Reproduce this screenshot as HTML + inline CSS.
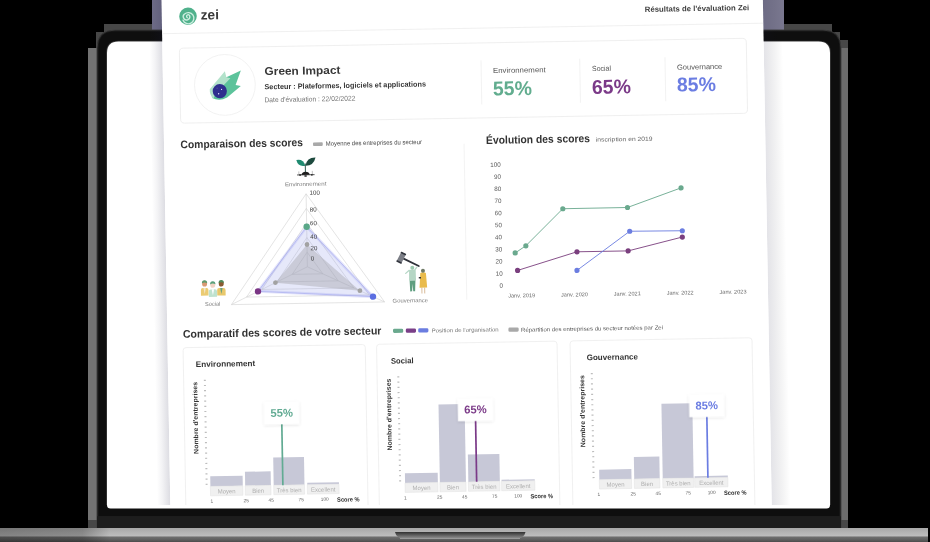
<!DOCTYPE html><html><head><meta charset="utf-8"><style>html,body{margin:0;padding:0;background:#000;width:930px;height:542px;overflow:hidden}svg{display:block;will-change:transform}</style></head><body><svg width="930" height="542" viewBox="0 0 930 542" font-family="Liberation Sans"><rect width="930" height="542" fill="#000"/><path d="M104 24 H832 V32 H840 V40 H848 V528 H88 V48 H96 V32 H104 Z" fill="#474747"/><rect x="88" y="48" width="9" height="472" fill="#737373"/><rect x="840" y="48" width="8" height="472" fill="#6c6c6c"/><rect x="152" y="0" width="10" height="30" fill="#6f6d88"/><rect x="758" y="0" width="26" height="30" fill="#79778f"/><path d="M97 48 Q97 30 115 30 H823 Q841 30 841 48 V531.6 H97 Z" fill="#1b1b1b" stroke="#3c3c3c" stroke-width="0.9"/><path d="M98.6 48 Q98.6 31.6 115 31.6 H823 Q839.4 31.6 839.4 48 V516 H98.6 Z" fill="#0e0e0e"/><rect x="97" y="516.3" width="744" height="15.3" fill="#1d1d1d"/><path d="M106.2 53 Q106.2 40.7 118.5 40.7 H818.5 Q830.8 40.7 830.8 53 V505 H106.2 Z" fill="#3a3a3a"/><path d="M107 53 Q107 41.5 118.5 41.5 H818.5 Q830 41.5 830 53 V505 Q830 508.5 826.5 508.5 H110.5 Q107 508.5 107 505 Z" fill="#ffffff"/><defs><linearGradient id="base" gradientUnits="userSpaceOnUse" x1="0" y1="528" x2="0" y2="542"><stop offset="0" stop-color="#a8a8a8"/><stop offset="0.55" stop-color="#bdbdbd"/><stop offset="0.66" stop-color="#6e6e6e"/><stop offset="0.85" stop-color="#5e5e5e"/><stop offset="1" stop-color="#4c4c4c"/></linearGradient><linearGradient id="baseL" x1="0" y1="0" x2="1" y2="0"><stop offset="0" stop-color="#000" stop-opacity="0.3"/><stop offset="0.75" stop-color="#000" stop-opacity="0.25"/><stop offset="1" stop-color="#000" stop-opacity="0"/></linearGradient><linearGradient id="notch" x1="0" y1="0" x2="0" y2="1"><stop offset="0" stop-color="#303030"/><stop offset="1" stop-color="#8a8a8a"/></linearGradient><linearGradient id="shl" x1="0" y1="0" x2="1" y2="0"><stop offset="0" stop-color="#1a1a40" stop-opacity="0"/><stop offset="0.4" stop-color="#1a1a40" stop-opacity="0.05"/><stop offset="1" stop-color="#1a1a40" stop-opacity="0.15"/></linearGradient><linearGradient id="shr" x1="0" y1="0" x2="1" y2="0"><stop offset="0" stop-color="#1a1a40" stop-opacity="0.12"/><stop offset="1" stop-color="#000" stop-opacity="0"/></linearGradient><clipPath id="scr"><rect x="0" y="0" width="930" height="505"/></clipPath><filter id="bs" x="-30%" y="-30%" width="160%" height="160%"><feDropShadow dx="0" dy="1" stdDeviation="1.5" flood-color="#000" flood-opacity="0.12"/></filter></defs><rect x="0" y="528" width="928" height="14" fill="url(#base)"/><rect x="0" y="528" width="110" height="14" fill="url(#baseL)"/><path d="M395 532 H525.5 Q524 538 518.5 538 H402 Q396.5 538 395 532 Z" fill="url(#notch)"/><rect x="400" y="538" width="120" height="0.9" fill="#a0a0a0"/><g clip-path="url(#scr)"><g transform="translate(161.5 0) rotate(-1)"><rect x="-13" y="-20" width="13" height="600" fill="url(#shl)"/><rect x="601.3" y="-20" width="19" height="600" fill="url(#shr)"/><rect x="0" y="-20" width="601.3" height="600" fill="#fff"/><circle cx="26.2" cy="16.7" r="8.8" fill="#50b18c"/><path d="M25.6 18.2 a1.6 1.6 0 1 1 2.4 -1.6 a3.3 3.3 0 1 1 -5.2 -2.2 a5.6 5.6 0 1 1 -1.6 6.2" fill="none" stroke="#cdeee0" stroke-width="1.35" stroke-linecap="round"/><text x="38.9" y="20.3" font-size="13.6" font-weight="bold" fill="#3a3a3a" text-anchor="start" textLength="18.3" lengthAdjust="spacingAndGlyphs" >zei</text><text x="587.5" y="20.4" font-size="7.6" font-weight="bold" fill="#3f3f3f" text-anchor="end" textLength="104.5" lengthAdjust="spacingAndGlyphs" >Résultats de l'évaluation Zei</text><line x1="0" y1="33.7" x2="601" y2="33.7" stroke="#ececec" stroke-width="0.8"/><rect x="17" y="48.5" width="567" height="75" rx="4" fill="#fff" stroke="#ebebeb" stroke-width="0.8"/><circle cx="61.9" cy="86" r="30.4" fill="#fff" stroke="#efefef" stroke-width="0.8"/><path d="M63.5 78.3 L78.1 71.9 L72.6 86.2 L77.8 87.4 L63.9 98.6 Q56 102.6 49 98.8 L52 90 Z" fill="#5cc39b"/><path d="M46.7 90.2 L62.1 72.4 L63.5 78.3 L67.5 79.5 L54 93 L50 99.5 Q46.3 96 46.7 90.2 Z" fill="#b3e2cb"/><circle cx="56.7" cy="92.2" r="7.1" fill="#2f2f8e"/><circle cx="58.5" cy="90.5" r="0.6" fill="#dfe0ff"/><circle cx="55.5" cy="94.8" r="0.7" fill="#dfe0ff"/><circle cx="54" cy="89" r="0.4" fill="#aab"/><text x="101.7" y="76.9" font-size="11.2" font-weight="bold" fill="#383838" text-anchor="start" textLength="76" lengthAdjust="spacingAndGlyphs" >Green Impact</text><text x="101.4" y="91.1" font-size="7.5" font-weight="bold" fill="#383838" text-anchor="start" textLength="161.5" lengthAdjust="spacingAndGlyphs" >Secteur : Plateformes, logiciels et applications</text><text x="101.2" y="104.0" font-size="7" font-weight="normal" fill="#737373" text-anchor="start" textLength="91" lengthAdjust="spacingAndGlyphs" >Date d'évaluation : 22/02/2022</text><line x1="318.4" y1="66" x2="318.4" y2="110" stroke="#efefef" stroke-width="0.8"/><line x1="417.1" y1="66" x2="417.1" y2="110" stroke="#efefef" stroke-width="0.8"/><line x1="502.4" y1="66" x2="502.4" y2="110" stroke="#efefef" stroke-width="0.8"/><text x="330.2" y="78.8" font-size="7.3" font-weight="normal" fill="#555" text-anchor="start" textLength="52.8" lengthAdjust="spacingAndGlyphs" >Environnement</text><text x="329.8" y="101.3" font-size="20" font-weight="bold" fill="#62ad8f" text-anchor="start" textLength="39" lengthAdjust="spacingAndGlyphs" >55%</text><text x="429.2" y="78.6" font-size="7.3" font-weight="normal" fill="#555" text-anchor="start" textLength="19" lengthAdjust="spacingAndGlyphs" >Social</text><text x="428.8" y="101.4" font-size="20" font-weight="bold" fill="#7b3a88" text-anchor="start" textLength="39" lengthAdjust="spacingAndGlyphs" >65%</text><text x="514.2" y="78.7" font-size="7.3" font-weight="normal" fill="#555" text-anchor="start" textLength="45.3" lengthAdjust="spacingAndGlyphs" >Gouvernance</text><text x="513.8" y="100.6" font-size="20" font-weight="bold" fill="#6b7de2" text-anchor="start" textLength="39" lengthAdjust="spacingAndGlyphs" >85%</text><text x="16.5" y="148.6" font-size="11" font-weight="bold" fill="#333" text-anchor="start" textLength="122.4" lengthAdjust="spacingAndGlyphs" >Comparaison des scores</text><rect x="149" y="145.1" width="9.7" height="3.6" rx="0.8" fill="#a9a9a9"/><text x="161.7" y="148.6" font-size="6.3" font-weight="normal" fill="#4a4a4a" text-anchor="start" textLength="96.2" lengthAdjust="spacingAndGlyphs" >Moyenne des entreprises du secteur</text><line x1="300" y1="149" x2="300" y2="305" stroke="#f0f0f0" stroke-width="0.8"/><polygon points="141.2,254.7 125.9,276.6 156.5,276.6" fill="none" stroke="#d2d2d2" stroke-width="0.6"/><polygon points="141.2,240.1 110.6,283.9 171.8,283.9" fill="none" stroke="#d2d2d2" stroke-width="0.6"/><polygon points="141.2,225.5 95.2,291.2 187.2,291.2" fill="none" stroke="#d2d2d2" stroke-width="0.6"/><polygon points="141.2,210.9 79.9,298.5 202.5,298.5" fill="none" stroke="#d2d2d2" stroke-width="0.6"/><polygon points="141.2,196.3 64.6,305.8 217.8,305.8" fill="none" stroke="#d2d2d2" stroke-width="0.6"/><line x1="141.2" y1="269.3" x2="141.2" y2="196.3" stroke="#d2d2d2" stroke-width="0.6"/><line x1="141.2" y1="269.3" x2="64.6" y2="305.8" stroke="#d2d2d2" stroke-width="0.6"/><line x1="141.2" y1="269.3" x2="217.8" y2="305.8" stroke="#d2d2d2" stroke-width="0.6"/><polygon points="141.2,229.2 91.4,293.0 206.3,300.3" fill="#8f95ea" fill-opacity="0.22" stroke="#9aa0ee" stroke-opacity="0.25" stroke-width="3" stroke-linejoin="round"/><polygon points="141.2,229.2 91.4,293.0 206.3,300.3" fill="none" stroke="#a6abf0" stroke-width="0.7"/><polygon points="141.2,247.0 109.0,284.6 193.3,294.1" fill="#a0a0a6" fill-opacity="0.4" stroke="none"/><circle cx="141.2" cy="247.0" r="2.4" fill="#a2a2a2"/><circle cx="109.0" cy="284.6" r="2.4" fill="#a2a2a2"/><circle cx="193.3" cy="294.1" r="2.4" fill="#a2a2a2"/><circle cx="141.2" cy="229.2" r="3.2" fill="#5aa888"/><circle cx="91.4" cy="293.0" r="3.2" fill="#7a3585"/><circle cx="206.3" cy="300.3" r="3.2" fill="#5b6ee1"/><text x="144.6" y="197.4" font-size="6.2" font-weight="normal" fill="#3d3d3d" text-anchor="start" >100</text><text x="144.6" y="214.2" font-size="6.2" font-weight="normal" fill="#3d3d3d" text-anchor="start" >80</text><text x="144.6" y="227.8" font-size="6.2" font-weight="normal" fill="#3d3d3d" text-anchor="start" >60</text><text x="144.6" y="241.4" font-size="6.2" font-weight="normal" fill="#3d3d3d" text-anchor="start" >40</text><text x="144.6" y="252.9" font-size="6.2" font-weight="normal" fill="#3d3d3d" text-anchor="start" >20</text><text x="144.6" y="263.2" font-size="6.2" font-weight="normal" fill="#3d3d3d" text-anchor="start" >0</text><path d="M140.8 168.2 Q139.05 161 132 162.3 Q133.75 169.5 140.8 168.2 Z" fill="#1f8a70"/><path d="M141 168.2 Q142.6 159.8 151.2 160.2 Q149.4 168.5 141 168.2 Z" fill="#1d4a3e"/><line x1="140.9" y1="166" x2="140.9" y2="175" stroke="#1d4a3e" stroke-width="0.9"/><path d="M136.8 177.4 Q137.3 174.4 141 174.2 Q144.7 174.4 145.2 177.4 Z" fill="#1e1e1e"/><line x1="132.5" y1="177.3" x2="150" y2="177.3" stroke="#2a2a2a" stroke-width="0.8"/><path d="M134.3 177 V173.8 M147.8 177 V173.5" stroke="#666" stroke-width="0.4"/><circle cx="135.5" cy="177.4" r="0.9" fill="#2a2a2a"/><circle cx="147.3" cy="177.4" r="0.9" fill="#2a2a2a"/><ellipse cx="141" cy="178.5" rx="1.5" ry="0.8" fill="#1e1e1e"/><text x="120.2" y="188.4" font-size="5.6" font-weight="normal" fill="#7c7c7c" text-anchor="start" textLength="41.5" lengthAdjust="spacingAndGlyphs" >Environnement</text><path d="M34.300000000000004 296.3 V290.8 Q34.300000000000004 288.8 36.300000000000004 288.8 H39.9 Q41.9 288.8 41.9 290.8 V296.3 Z" fill="#ebcb72"/><path d="M36.9 288.8 L38.1 294.8 L39.300000000000004 288.8 Z" fill="#f4e6c8"/><ellipse cx="38.1" cy="284.4" rx="2.5" ry="2.9" fill="#d99a72"/><path d="M35.4 283.9 Q35.5 280.79999999999995 38.1 280.9 Q40.7 280.79999999999995 40.800000000000004 283.9 Q38.1 282.4 35.4 283.9 Z" fill="#5d9a6e"/><path d="M50.599999999999994 296.5 V291.0 Q50.599999999999994 289.0 52.599999999999994 289.0 H57.0 Q59.0 289.0 59.0 291.0 V296.5 Z" fill="#e8c86c"/><path d="M53.599999999999994 289.0 L54.8 295.0 L56.0 289.0 Z" fill="#6aa080"/><ellipse cx="54.8" cy="284.6" rx="2.5" ry="2.9" fill="#8a5a30"/><path d="M52.099999999999994 284.1 Q52.199999999999996 281.0 54.8 281.1 Q57.4 281.0 57.5 284.1 Q54.8 282.6 52.099999999999994 284.1 Z" fill="#4f8a5a"/><path d="M42.199999999999996 297.7 V292.2 Q42.199999999999996 290.2 44.199999999999996 290.2 H48.4 Q50.4 290.2 50.4 292.2 V297.7 Z" fill="#bfe2cf"/><path d="M45.099999999999994 290.2 L46.3 296.2 L47.5 290.2 Z" fill="#ffffff"/><ellipse cx="46.3" cy="285.7" rx="2.5" ry="2.9" fill="#f1d3c4"/><path d="M43.599999999999994 285.2 Q43.699999999999996 282.09999999999997 46.3 282.2 Q48.9 282.09999999999997 49.0 285.2 Q46.3 283.7 43.599999999999994 285.2 Z" fill="#5aa07a"/><text x="38.2" y="306.6" font-size="5.6" font-weight="normal" fill="#7c7c7c" text-anchor="start" textLength="15.3" lengthAdjust="spacingAndGlyphs" >Social</text><line x1="237.5" y1="262.8" x2="252.6" y2="270.5" stroke="#2f323a" stroke-width="1.7" stroke-linecap="round"/><g transform="rotate(-62 235.2 261.9)"><rect x="230.2" y="259.3" width="10" height="5.2" rx="0.8" fill="#7b7e86"/><rect x="229.6" y="259" width="1.6" height="5.8" rx="0.6" fill="#33363e"/><rect x="239.2" y="259" width="1.6" height="5.8" rx="0.6" fill="#33363e"/></g><path d="M243 274.6 L239.4 277.6 M248.6 274.3 L250.6 271.5" stroke="#b5d6c5" stroke-width="1.3" stroke-linecap="round"/><path d="M242.8 274.3 Q246.1 273.4 249.4 274.3 L249.6 285 H242.6 Z" fill="#b5d6c5"/><path d="M243.2 285 H249 L248.5 295.7 H246.6 L246.1 288 L245.5 295.7 H243.6 Z" fill="#5f9e80"/><circle cx="246.1" cy="272" r="2" fill="#9ccab0"/><path d="M254 277.5 Q256.7 276.2 259.6 277.5 L260.6 292.2 H253 Z" fill="#e9bb4c"/><circle cx="256.7" cy="275.2" r="2" fill="#6f7a66"/><path d="M255.3 292.2 V298 M258.1 292.2 V298" stroke="#c9a070" stroke-width="0.7"/><rect x="252.4" y="281.5" width="2.2" height="1.4" fill="#333"/><text x="225.8" y="306.7" font-size="5.6" font-weight="normal" fill="#7c7c7c" text-anchor="start" textLength="35.4" lengthAdjust="spacingAndGlyphs" >Gouvernance</text><text x="322" y="149.6" font-size="11" font-weight="bold" fill="#333" text-anchor="start" textLength="104" lengthAdjust="spacingAndGlyphs" >Évolution des scores</text><text x="431.8" y="149.2" font-size="5.9" font-weight="normal" fill="#666" text-anchor="start" textLength="56.8" lengthAdjust="spacingAndGlyphs" >inscription en 2019</text><text x="336.4" y="293.59999999999997" font-size="6.3" font-weight="normal" fill="#5a5a5a" text-anchor="end" >0</text><text x="336.4" y="281.49999999999994" font-size="6.3" font-weight="normal" fill="#5a5a5a" text-anchor="end" >10</text><text x="336.4" y="269.4" font-size="6.3" font-weight="normal" fill="#5a5a5a" text-anchor="end" >20</text><text x="336.4" y="257.29999999999995" font-size="6.3" font-weight="normal" fill="#5a5a5a" text-anchor="end" >30</text><text x="336.4" y="245.19999999999996" font-size="6.3" font-weight="normal" fill="#5a5a5a" text-anchor="end" >40</text><text x="336.4" y="233.09999999999997" font-size="6.3" font-weight="normal" fill="#5a5a5a" text-anchor="end" >50</text><text x="336.4" y="220.99999999999997" font-size="6.3" font-weight="normal" fill="#5a5a5a" text-anchor="end" >60</text><text x="336.4" y="208.89999999999998" font-size="6.3" font-weight="normal" fill="#5a5a5a" text-anchor="end" >70</text><text x="336.4" y="196.79999999999995" font-size="6.3" font-weight="normal" fill="#5a5a5a" text-anchor="end" >80</text><text x="336.4" y="184.7" font-size="6.3" font-weight="normal" fill="#5a5a5a" text-anchor="end" >90</text><text x="336.4" y="172.59999999999997" font-size="6.3" font-weight="normal" fill="#5a5a5a" text-anchor="end" >100</text><text x="354.9" y="303.6" font-size="5.5" font-weight="normal" fill="#6a6a6a" text-anchor="middle" textLength="27" lengthAdjust="spacingAndGlyphs" >Janv. 2019</text><text x="407.75" y="303.6" font-size="5.5" font-weight="normal" fill="#6a6a6a" text-anchor="middle" textLength="27" lengthAdjust="spacingAndGlyphs" >Janv. 2020</text><text x="460.59999999999997" y="303.6" font-size="5.5" font-weight="normal" fill="#6a6a6a" text-anchor="middle" textLength="27" lengthAdjust="spacingAndGlyphs" >Janv. 2021</text><text x="513.45" y="303.6" font-size="5.5" font-weight="normal" fill="#6a6a6a" text-anchor="middle" textLength="27" lengthAdjust="spacingAndGlyphs" >Janv. 2022</text><text x="566.3" y="303.6" font-size="5.5" font-weight="normal" fill="#6a6a6a" text-anchor="middle" textLength="27" lengthAdjust="spacingAndGlyphs" >Janv. 2023</text><polyline points="349.2,259.1 360.0,252.1 397.6,215.7 462.3,215.6 516.2,196.9" fill="none" stroke="#6aa98e" stroke-width="0.9"/><circle cx="349.2" cy="259.1" r="2.6" fill="#6aa98e"/><circle cx="360" cy="252.1" r="2.6" fill="#6aa98e"/><circle cx="397.6" cy="215.7" r="2.6" fill="#6aa98e"/><circle cx="462.3" cy="215.6" r="2.6" fill="#6aa98e"/><circle cx="516.2" cy="196.9" r="2.6" fill="#6aa98e"/><polyline points="351.3,276.6 411.0,259.0 462.2,259.0 516.6,246.1" fill="none" stroke="#7a3f7e" stroke-width="0.9"/><circle cx="351.3" cy="276.6" r="2.6" fill="#7a3f7e"/><circle cx="411" cy="259" r="2.6" fill="#7a3f7e"/><circle cx="462.2" cy="259" r="2.6" fill="#7a3f7e"/><circle cx="516.6" cy="246.1" r="2.6" fill="#7a3f7e"/><polyline points="410.7,277.6 464.1,239.4 516.7,239.8" fill="none" stroke="#6b7de0" stroke-width="0.9"/><circle cx="410.7" cy="277.6" r="2.6" fill="#6b7de0"/><circle cx="464.1" cy="239.4" r="2.6" fill="#6b7de0"/><circle cx="516.7" cy="239.8" r="2.6" fill="#6b7de0"/><text x="15.6" y="338.2" font-size="11" font-weight="bold" fill="#333" text-anchor="start" textLength="198.5" lengthAdjust="spacingAndGlyphs" >Comparatif des scores de votre secteur</text><rect x="225.7" y="332.8" width="10.2" height="4.2" rx="1.4" fill="#6aa98e"/><rect x="238.5" y="332.8" width="10.2" height="4.2" rx="1.4" fill="#7a3f88"/><rect x="250.9" y="332.8" width="10.2" height="4.2" rx="1.4" fill="#6b7de0"/><text x="264.3" y="337.2" font-size="5.6" font-weight="normal" fill="#777" text-anchor="start" textLength="67.1" lengthAdjust="spacingAndGlyphs" >Position de l'organisation</text><rect x="341.1" y="333.6" width="10.3" height="4.2" rx="1.4" fill="#a9a9a9"/><text x="353.7" y="338.0" font-size="5.6" font-weight="normal" fill="#555" text-anchor="start" textLength="142" lengthAdjust="spacingAndGlyphs" >Répartition des entreprises du secteur notées par Zei</text><rect x="15.5" y="348" width="182.2" height="200" rx="3" fill="#fff" stroke="#ececec" stroke-width="0.8"/><text x="27.8" y="367.6" font-size="8" font-weight="bold" fill="#333" text-anchor="start" textLength="59.5" lengthAdjust="spacingAndGlyphs" >Environnement</text><text x="26.7" y="418.5" font-size="6.6" font-weight="bold" fill="#333" text-anchor="middle" textLength="72" lengthAdjust="spacingAndGlyphs" transform="rotate(-90 26.7 418.5)" dy="2.3">Nombre d'entreprises</text><rect x="35.7" y="484.4" width="2" height="1.2" fill="#bdbdbd"/><rect x="35.7" y="479.2" width="2" height="1.2" fill="#bdbdbd"/><rect x="35.7" y="474.0" width="2" height="1.2" fill="#bdbdbd"/><rect x="35.7" y="468.8" width="2" height="1.2" fill="#bdbdbd"/><rect x="35.7" y="463.6" width="2" height="1.2" fill="#bdbdbd"/><rect x="35.7" y="458.4" width="2" height="1.2" fill="#bdbdbd"/><rect x="35.7" y="453.2" width="2" height="1.2" fill="#bdbdbd"/><rect x="35.7" y="448.0" width="2" height="1.2" fill="#bdbdbd"/><rect x="35.7" y="442.8" width="2" height="1.2" fill="#bdbdbd"/><rect x="35.7" y="437.6" width="2" height="1.2" fill="#bdbdbd"/><rect x="35.7" y="432.4" width="2" height="1.2" fill="#bdbdbd"/><rect x="35.7" y="427.2" width="2" height="1.2" fill="#bdbdbd"/><rect x="35.7" y="422.0" width="2" height="1.2" fill="#bdbdbd"/><rect x="35.7" y="416.8" width="2" height="1.2" fill="#bdbdbd"/><rect x="35.7" y="411.6" width="2" height="1.2" fill="#bdbdbd"/><rect x="35.7" y="406.4" width="2" height="1.2" fill="#bdbdbd"/><rect x="35.7" y="401.2" width="2" height="1.2" fill="#bdbdbd"/><rect x="35.7" y="396.0" width="2" height="1.2" fill="#bdbdbd"/><rect x="35.7" y="390.8" width="2" height="1.2" fill="#bdbdbd"/><rect x="35.7" y="385.6" width="2" height="1.2" fill="#bdbdbd"/><rect x="35.7" y="380.4" width="2" height="1.2" fill="#bdbdbd"/><rect x="40.4" y="477.1" width="32.4" height="10.1" fill="#c7c8d7"/><rect x="75.2" y="473.2" width="25.7" height="14.0" fill="#c7c8d7"/><rect x="103.7" y="459.3" width="30.8" height="27.9" fill="#c7c8d7"/><rect x="137.3" y="485.3" width="31.7" height="1.9" fill="#c7c8d7"/><rect x="40.4" y="487.2" width="32.4" height="9.4" fill="#f0f0f0" stroke="#e2e2e2" stroke-width="0.5"/><text x="56.599999999999994" y="494.4" font-size="6" font-weight="normal" fill="#b0b0b0" text-anchor="middle" >Moyen</text><rect x="75.2" y="487.2" width="25.7" height="9.4" fill="#f0f0f0" stroke="#e2e2e2" stroke-width="0.5"/><text x="88.05000000000001" y="494.4" font-size="6" font-weight="normal" fill="#b0b0b0" text-anchor="middle" >Bien</text><rect x="103.7" y="487.2" width="30.8" height="9.4" fill="#f0f0f0" stroke="#e2e2e2" stroke-width="0.5"/><text x="119.1" y="494.4" font-size="6" font-weight="normal" fill="#b0b0b0" text-anchor="middle" >Très bien</text><rect x="137.3" y="487.2" width="31.7" height="9.4" fill="#f0f0f0" stroke="#e2e2e2" stroke-width="0.5"/><text x="153.15" y="494.4" font-size="6" font-weight="normal" fill="#b0b0b0" text-anchor="middle" >Excellent</text><text x="41.5" y="503.6" font-size="4.8" font-weight="normal" fill="#666" text-anchor="middle" >1</text><text x="76.0" y="503.6" font-size="4.8" font-weight="normal" fill="#666" text-anchor="middle" >25</text><text x="101.0" y="503.6" font-size="4.8" font-weight="normal" fill="#666" text-anchor="middle" >45</text><text x="131.0" y="503.6" font-size="4.8" font-weight="normal" fill="#666" text-anchor="middle" >75</text><text x="154.5" y="503.6" font-size="4.8" font-weight="normal" fill="#666" text-anchor="middle" >100</text><text x="166.8" y="504.8" font-size="6.3" font-weight="bold" fill="#2e2e2e" text-anchor="start" textLength="22.5" lengthAdjust="spacingAndGlyphs" >Score %</text><line x1="112.9" y1="426" x2="112.9" y2="487.2" stroke="#62ab93" stroke-width="1.7"/><rect x="95.4" y="403.8" width="35" height="22.5" fill="#fff" filter="url(#bs)"/><text x="112.9" y="418.8" font-size="11.3" font-weight="bold" fill="#62ab93" text-anchor="middle" textLength="22.5" lengthAdjust="spacingAndGlyphs" >55%</text><rect x="209" y="348" width="180.5" height="200" rx="3" fill="#fff" stroke="#ececec" stroke-width="0.8"/><text x="223.1" y="367.6" font-size="8" font-weight="bold" fill="#333" text-anchor="start" textLength="22.6" lengthAdjust="spacingAndGlyphs" >Social</text><text x="220.2" y="418.5" font-size="6.6" font-weight="bold" fill="#333" text-anchor="middle" textLength="72" lengthAdjust="spacingAndGlyphs" transform="rotate(-90 220.2 418.5)" dy="2.3">Nombre d'entreprises</text><rect x="229.2" y="484.4" width="2" height="1.2" fill="#bdbdbd"/><rect x="229.2" y="479.2" width="2" height="1.2" fill="#bdbdbd"/><rect x="229.2" y="474.0" width="2" height="1.2" fill="#bdbdbd"/><rect x="229.2" y="468.8" width="2" height="1.2" fill="#bdbdbd"/><rect x="229.2" y="463.6" width="2" height="1.2" fill="#bdbdbd"/><rect x="229.2" y="458.4" width="2" height="1.2" fill="#bdbdbd"/><rect x="229.2" y="453.2" width="2" height="1.2" fill="#bdbdbd"/><rect x="229.2" y="448.0" width="2" height="1.2" fill="#bdbdbd"/><rect x="229.2" y="442.8" width="2" height="1.2" fill="#bdbdbd"/><rect x="229.2" y="437.6" width="2" height="1.2" fill="#bdbdbd"/><rect x="229.2" y="432.4" width="2" height="1.2" fill="#bdbdbd"/><rect x="229.2" y="427.2" width="2" height="1.2" fill="#bdbdbd"/><rect x="229.2" y="422.0" width="2" height="1.2" fill="#bdbdbd"/><rect x="229.2" y="416.8" width="2" height="1.2" fill="#bdbdbd"/><rect x="229.2" y="411.6" width="2" height="1.2" fill="#bdbdbd"/><rect x="229.2" y="406.4" width="2" height="1.2" fill="#bdbdbd"/><rect x="229.2" y="401.2" width="2" height="1.2" fill="#bdbdbd"/><rect x="229.2" y="396.0" width="2" height="1.2" fill="#bdbdbd"/><rect x="229.2" y="390.8" width="2" height="1.2" fill="#bdbdbd"/><rect x="229.2" y="385.6" width="2" height="1.2" fill="#bdbdbd"/><rect x="229.2" y="380.4" width="2" height="1.2" fill="#bdbdbd"/><rect x="235.1" y="477.5" width="32.8" height="9.7" fill="#c7c8d7"/><rect x="269.9" y="409.3" width="26.1" height="77.9" fill="#c7c8d7"/><rect x="298.4" y="459.8" width="31.5" height="27.4" fill="#c7c8d7"/><rect x="331.6" y="485.6" width="33.2" height="1.6" fill="#c7c8d7"/><rect x="235.1" y="487.2" width="32.8" height="9.4" fill="#f0f0f0" stroke="#e2e2e2" stroke-width="0.5"/><text x="251.5" y="494.4" font-size="6" font-weight="normal" fill="#b0b0b0" text-anchor="middle" >Moyen</text><rect x="269.9" y="487.2" width="26.1" height="9.4" fill="#f0f0f0" stroke="#e2e2e2" stroke-width="0.5"/><text x="282.95" y="494.4" font-size="6" font-weight="normal" fill="#b0b0b0" text-anchor="middle" >Bien</text><rect x="298.4" y="487.2" width="31.5" height="9.4" fill="#f0f0f0" stroke="#e2e2e2" stroke-width="0.5"/><text x="314.15" y="494.4" font-size="6" font-weight="normal" fill="#b0b0b0" text-anchor="middle" >Très bien</text><rect x="331.6" y="487.2" width="33.2" height="9.4" fill="#f0f0f0" stroke="#e2e2e2" stroke-width="0.5"/><text x="348.20000000000005" y="494.4" font-size="6" font-weight="normal" fill="#b0b0b0" text-anchor="middle" >Excellent</text><text x="235" y="503.6" font-size="4.8" font-weight="normal" fill="#666" text-anchor="middle" >1</text><text x="269.5" y="503.6" font-size="4.8" font-weight="normal" fill="#666" text-anchor="middle" >25</text><text x="294.5" y="503.6" font-size="4.8" font-weight="normal" fill="#666" text-anchor="middle" >45</text><text x="324.5" y="503.6" font-size="4.8" font-weight="normal" fill="#666" text-anchor="middle" >75</text><text x="348" y="503.6" font-size="4.8" font-weight="normal" fill="#666" text-anchor="middle" >100</text><text x="360.3" y="504.8" font-size="6.3" font-weight="bold" fill="#2e2e2e" text-anchor="start" textLength="22.5" lengthAdjust="spacingAndGlyphs" >Score %</text><line x1="306.7" y1="426" x2="306.7" y2="487.2" stroke="#7b3a88" stroke-width="1.7"/><rect x="289.2" y="403.8" width="35" height="22.5" fill="#fff" filter="url(#bs)"/><text x="306.7" y="418.8" font-size="11.3" font-weight="bold" fill="#7b3a88" text-anchor="middle" textLength="22.5" lengthAdjust="spacingAndGlyphs" >65%</text><rect x="402.5" y="348" width="182" height="200" rx="3" fill="#fff" stroke="#ececec" stroke-width="0.8"/><text x="418.8" y="367.6" font-size="8" font-weight="bold" fill="#333" text-anchor="start" textLength="51.4" lengthAdjust="spacingAndGlyphs" >Gouvernance</text><text x="413.7" y="418.5" font-size="6.6" font-weight="bold" fill="#333" text-anchor="middle" textLength="72" lengthAdjust="spacingAndGlyphs" transform="rotate(-90 413.7 418.5)" dy="2.3">Nombre d'entreprises</text><rect x="422.7" y="484.4" width="2" height="1.2" fill="#bdbdbd"/><rect x="422.7" y="479.2" width="2" height="1.2" fill="#bdbdbd"/><rect x="422.7" y="474.0" width="2" height="1.2" fill="#bdbdbd"/><rect x="422.7" y="468.8" width="2" height="1.2" fill="#bdbdbd"/><rect x="422.7" y="463.6" width="2" height="1.2" fill="#bdbdbd"/><rect x="422.7" y="458.4" width="2" height="1.2" fill="#bdbdbd"/><rect x="422.7" y="453.2" width="2" height="1.2" fill="#bdbdbd"/><rect x="422.7" y="448.0" width="2" height="1.2" fill="#bdbdbd"/><rect x="422.7" y="442.8" width="2" height="1.2" fill="#bdbdbd"/><rect x="422.7" y="437.6" width="2" height="1.2" fill="#bdbdbd"/><rect x="422.7" y="432.4" width="2" height="1.2" fill="#bdbdbd"/><rect x="422.7" y="427.2" width="2" height="1.2" fill="#bdbdbd"/><rect x="422.7" y="422.0" width="2" height="1.2" fill="#bdbdbd"/><rect x="422.7" y="416.8" width="2" height="1.2" fill="#bdbdbd"/><rect x="422.7" y="411.6" width="2" height="1.2" fill="#bdbdbd"/><rect x="422.7" y="406.4" width="2" height="1.2" fill="#bdbdbd"/><rect x="422.7" y="401.2" width="2" height="1.2" fill="#bdbdbd"/><rect x="422.7" y="396.0" width="2" height="1.2" fill="#bdbdbd"/><rect x="422.7" y="390.8" width="2" height="1.2" fill="#bdbdbd"/><rect x="422.7" y="385.6" width="2" height="1.2" fill="#bdbdbd"/><rect x="422.7" y="380.4" width="2" height="1.2" fill="#bdbdbd"/><rect x="429.4" y="477.2" width="32.2" height="10.0" fill="#c7c8d7"/><rect x="464.3" y="465.2" width="25.5" height="22.0" fill="#c7c8d7"/><rect x="492.8" y="412.5" width="30.9" height="74.7" fill="#c7c8d7"/><rect x="524.7" y="485.4" width="33.2" height="1.8" fill="#c7c8d7"/><rect x="429.4" y="487.2" width="32.2" height="9.4" fill="#f0f0f0" stroke="#e2e2e2" stroke-width="0.5"/><text x="445.5" y="494.4" font-size="6" font-weight="normal" fill="#b0b0b0" text-anchor="middle" >Moyen</text><rect x="464.3" y="487.2" width="25.5" height="9.4" fill="#f0f0f0" stroke="#e2e2e2" stroke-width="0.5"/><text x="477.05" y="494.4" font-size="6" font-weight="normal" fill="#b0b0b0" text-anchor="middle" >Bien</text><rect x="492.8" y="487.2" width="30.9" height="9.4" fill="#f0f0f0" stroke="#e2e2e2" stroke-width="0.5"/><text x="508.25" y="494.4" font-size="6" font-weight="normal" fill="#b0b0b0" text-anchor="middle" >Très bien</text><rect x="524.7" y="487.2" width="33.2" height="9.4" fill="#f0f0f0" stroke="#e2e2e2" stroke-width="0.5"/><text x="541.3" y="494.4" font-size="6" font-weight="normal" fill="#b0b0b0" text-anchor="middle" >Excellent</text><text x="428.5" y="503.6" font-size="4.8" font-weight="normal" fill="#666" text-anchor="middle" >1</text><text x="463.0" y="503.6" font-size="4.8" font-weight="normal" fill="#666" text-anchor="middle" >25</text><text x="488.0" y="503.6" font-size="4.8" font-weight="normal" fill="#666" text-anchor="middle" >45</text><text x="518.0" y="503.6" font-size="4.8" font-weight="normal" fill="#666" text-anchor="middle" >75</text><text x="541.5" y="503.6" font-size="4.8" font-weight="normal" fill="#666" text-anchor="middle" >100</text><text x="553.8" y="504.8" font-size="6.3" font-weight="bold" fill="#2e2e2e" text-anchor="start" textLength="22.5" lengthAdjust="spacingAndGlyphs" >Score %</text><line x1="538" y1="426" x2="538" y2="487.2" stroke="#6b7de2" stroke-width="1.7"/><rect x="520.5" y="403.8" width="35" height="22.5" fill="#fff" filter="url(#bs)"/><text x="538" y="418.8" font-size="11.3" font-weight="bold" fill="#6b7de2" text-anchor="middle" textLength="22.5" lengthAdjust="spacingAndGlyphs" >85%</text></g></g></svg></body></html>
